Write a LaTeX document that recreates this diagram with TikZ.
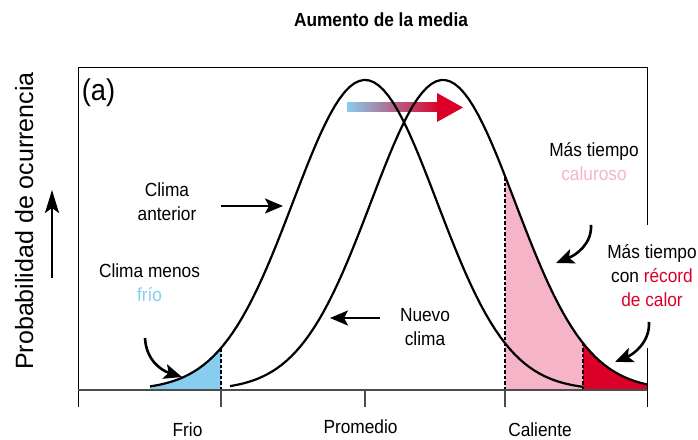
\documentclass[tikz,border=0pt]{standalone}
\usepackage{fontspec}
\setmainfont{Liberation Sans}[FakeStretch=0.91]
\newfontfamily\ejefont{Liberation Sans}
\usepackage{xcolor}
\usetikzlibrary{arrows.meta}
\definecolor{frio}{RGB}{135,205,240}
\definecolor{caluroso}{RGB}{245,180,200}
\definecolor{record}{RGB}{220,0,40}
\definecolor{mezcla}{RGB}{200,160,168}

\begin{document}
\begin{tikzpicture}[x=1pt, y=1pt, font=\fontsize{19}{24}\selectfont,
  curva/.style={line width=2.2pt},
  flecha/.style={line width=2.6pt, -{Stealth[length=18pt, width=15pt, inset=4pt]}},
  discont/.style={line width=1.6pt, dash pattern=on 3.5pt off 2pt},
  declare function={oldc(\t)=49+310*exp(-0.5*((\t-365)/72)^2);
                    newc(\t)=49+310*exp(-0.5*((\t-443)/72)^2);}]
\useasboundingbox (0,0) rectangle (698,439);

% areas under the curves
\fill[frio] (150,49) -- plot[domain=150:221, samples=30] (\x, {oldc(\x)}) -- (221,49) -- cycle;
\fill[caluroso] (505,49) -- plot[domain=505:583, samples=30] (\x, {newc(\x)}) -- (583,49) -- cycle;
\fill[record] (583,49) -- plot[domain=583:647, samples=30] (\x, {newc(\x)}) -- (647,49) -- cycle;

% shift of the mean
\shade[left color=frio, middle color=mezcla, right color=record] (347,327) rectangle (439,336);
\fill[record] (437,346) -- (463,331.5) -- (437,317) -- cycle;

% old and new climate
\draw[curva] plot[domain=150:583, samples=90] (\x, {oldc(\x)});
\draw[curva] plot[domain=230:647, samples=90] (\x, {newc(\x)});
\draw[discont] (221,49) -- (221,{oldc(221)});
\draw[discont] (505,49) -- (505,{newc(505)});
\draw[discont] (583,49) -- (583,{newc(583)});

% frame and axis
\draw[line width=0.9pt] (78,32) -- (78,372) -- (647,372) -- (647,214);
\draw[line width=0.9pt] (647,91) -- (647,32);
\draw[line width=1.3pt, black!70] (78,49) -- (647,49);
\draw[line width=1.3pt, black!70] (221,49) -- (221,32);
\draw[line width=1.3pt, black!70] (365,49) -- (365,32);
\draw[line width=1.3pt, black!70] (505,49) -- (505,32);

% labels
\node[anchor=base, font=\bfseries\fontsize{19}{24}\selectfont] (titulo) at (381,412) {Aumento de la media};
\node[anchor=base, rotate=90, font=\ejefont\fontsize{25}{28}\selectfont] (ejey) at (33,218) {Probabilidad de ocurrencia};
\node[font=\fontsize{30}{34}\selectfont] (panel) at (98.5,346.5) {(a)};
\node[align=center] (anterior) at (167,237) {Clima\\anterior};
\node[align=center] (nuevo) at (425,112) {Nuevo\\clima};
\node[align=center] (menos) at (149.5,156.5) {Clima menos\\\textcolor{frio}{frío}};
\node[align=center] (calor) at (594,277.5) {Más tiempo\\\textcolor{caluroso}{caluroso}};
\node[align=center] (recordc) at (652,163) {Más tiempo\\con \textcolor{record}{récord}\\\textcolor{record}{de calor}};
\node[anchor=base] (lfrio) at (187.5,2.5) {Frio};
\node[anchor=base] (lprom) at (360.5,6) {Promedio};
\node[anchor=base] (lcal) at (540,2.5) {Caliente};

% arrows
\coordinate (eje_a) at (52,161);
\coordinate (eje_b) at (52,249);
\coordinate (ant_a) at (221,233);
\coordinate (ant_b) at (283,233);
\coordinate (nue_a) at (380,121);
\coordinate (nue_b) at (330,121);
\coordinate (men_a) at (145,101);
\coordinate (men_b) at (182,62);
\coordinate (cal_a) at (591,214);
\coordinate (cal_b) at (556,176);
\coordinate (rec_a) at (649,117);
\coordinate (rec_b) at (615,77);
\draw[line width=2.4pt, -{Stealth[length=23pt, width=14pt, inset=5pt]}] (eje_a) -- (eje_b);
\draw[flecha] (ant_a) -- (ant_b);
\draw[flecha] (nue_a) -- (nue_b);
\draw[flecha] (men_a) .. controls (146,80) and (160,69) .. (men_b);
\draw[flecha] (cal_a) .. controls (592,195) and (576,184) .. (cal_b);
\draw[flecha] (rec_a) .. controls (650,97) and (634,85) .. (rec_b);
\end{tikzpicture}
\end{document}
